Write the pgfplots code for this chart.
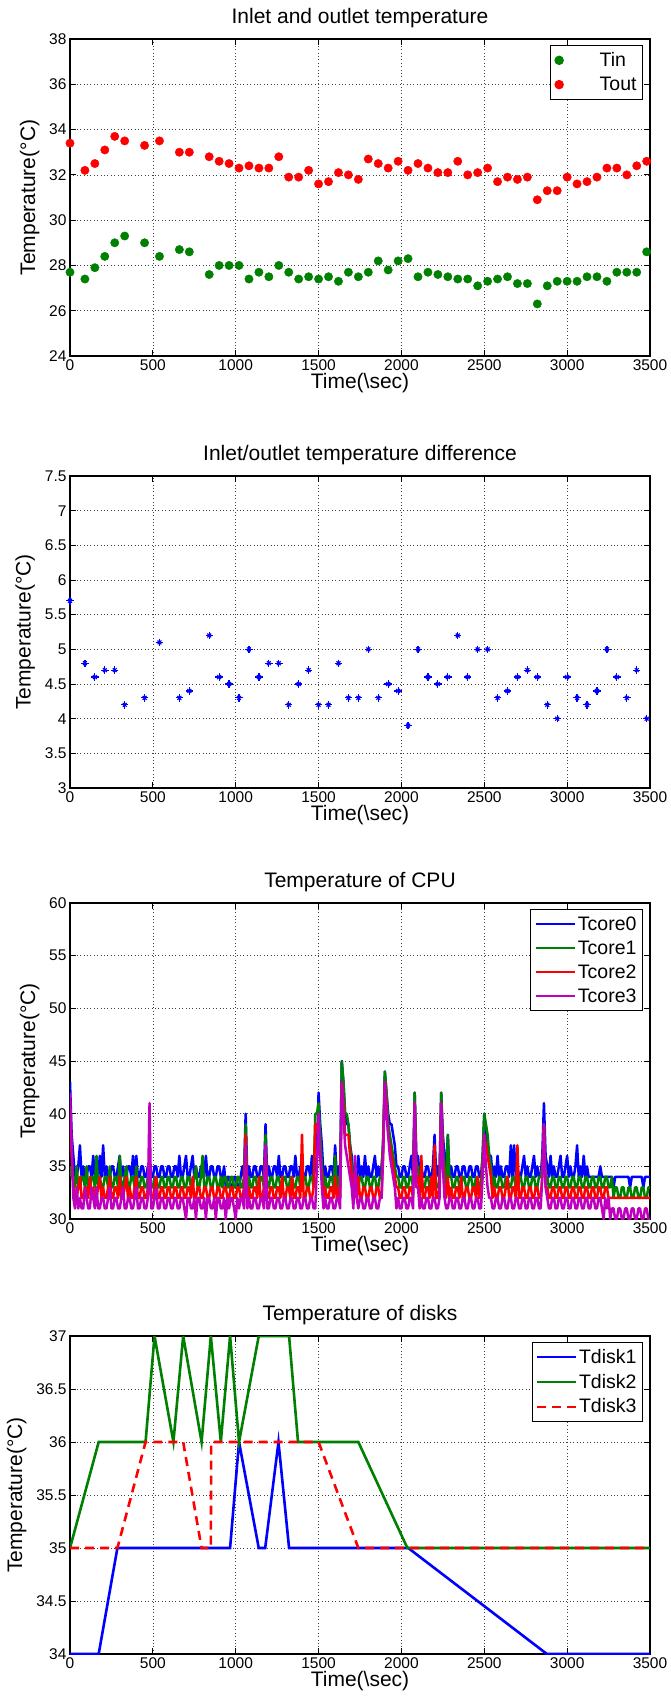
\documentclass[border=0pt]{standalone}
\usepackage{fontspec}
\setmainfont{Liberation Sans}
\usepackage{pgfplots}
\usepackage{pgfplotstable}
\pgfplotsset{compat=1.18}
\definecolor{mgreen}{rgb}{0,0.5,0}
\definecolor{mmag}{rgb}{0.75,0,0.75}

\pgfplotstableread{
t tin tout diff
0 27.7 33.4 5.7
90 27.4 32.2 4.8
150 27.9 32.5 4.6
210 28.4 33.1 4.7
270 29.0 33.7 4.7
330 29.3 33.5 4.2
450 29.0 33.3 4.3
540 28.4 33.5 5.1
660 28.7 33.0 4.3
720 28.6 33.0 4.4
840 27.6 32.8 5.2
900 28.0 32.6 4.6
960 28.0 32.5 4.5
1020 28.0 32.3 4.3
1080 27.4 32.4 5.0
1140 27.7 32.3 4.6
1200 27.5 32.3 4.8
1260 28.0 32.8 4.8
1320 27.7 31.9 4.2
1380 27.4 31.9 4.5
1440 27.5 32.2 4.7
1500 27.4 31.6 4.2
1560 27.5 31.7 4.2
1620 27.3 32.1 4.8
1680 27.7 32.0 4.3
1740 27.5 31.8 4.3
1800 27.7 32.7 5.0
1860 28.2 32.5 4.3
1920 27.8 32.3 4.5
1980 28.2 32.6 4.4
2040 28.3 32.2 3.9
2100 27.5 32.5 5.0
2160 27.7 32.3 4.6
2220 27.6 32.1 4.5
2280 27.5 32.1 4.6
2340 27.4 32.6 5.2
2400 27.4 32.0 4.6
2460 27.1 32.1 5.0
2520 27.3 32.3 5.0
2580 27.4 31.7 4.3
2640 27.5 31.9 4.4
2700 27.2 31.8 4.6
2760 27.2 31.9 4.7
2820 26.3 30.9 4.6
2880 27.1 31.3 4.2
2940 27.3 31.3 4.0
3000 27.3 31.9 4.6
3060 27.3 31.6 4.3
3120 27.5 31.7 4.2
3180 27.5 31.9 4.4
3240 27.3 32.3 5.0
3300 27.7 32.3 4.6
3360 27.7 32.0 4.3
3420 27.7 32.4 4.7
3480 28.6 32.6 4.0
}\inout

\pgfplotstableread{
t c0 c1 c2 c3
0 43 35 40 42
10 38 34 36 37
20 36 34 33 32
30 34 33 32 31
40 34 35 32 33
50 35 33 33 31
60 37 33 34 32
70 34 34 32 31
80 35 34 32 31
90 34 33 33 33
100 34 35 33 32
110 35 33 32 31
120 35 33 34 31
130 34 34 32 33
140 36 34 33 32
150 34 33 32 31
160 35 36 32 33
170 34 33 33 31
180 36 34 34 31
190 34 33 32 32
200 37 33 33 32
210 34 34 32 31
220 35 34 32 31
230 34 33 33 32
240 34 35 34 33
250 35 33 32 31
260 35 33 32 31
270 34 34 33 32
280 34 34 33 32
290 35 33 32 31
300 36 36 34 31
310 34 33 32 32
320 35 33 32 33
330 34 34 33 31
340 34 35 34 31
350 35 33 32 32
360 35 33 33 32
370 34 34 32 31
380 36 34 32 31
390 34 33 33 32
400 36 35 34 33
410 34 33 32 31
420 34 33 32 31
430 35 34 33 32
440 35 34 33 32
450 34 33 32 31
460 34 33 32 31
470 35 34 33 32
480 35 34 33 41
490 34 33 32 31
500 34 33 32 31
510 35 34 33 32
520 35 34 34 33
530 34 33 32 31
540 34 33 32 31
550 35 34 33 32
560 35 34 33 32
570 34 33 32 31
580 34 33 32 31
590 35 34 33 32
600 35 34 33 32
610 34 33 32 31
620 34 33 32 31
630 35 34 33 32
640 35 34 33 32
650 34 33 32 31
660 36 33 32 31
670 34 34 33 32
680 34 34 33 32
690 35 33 32 31
700 36 33 32 30
710 34 34 33 32
720 34 34 33 32
730 35 33 32 31
740 36 33 34 31
750 34 34 32 32
760 35 35 32 30
770 34 33 33 32
780 34 33 33 32
790 35 34 32 31
800 35 36 32 31
810 34 33 33 32
820 36 33 33 30
830 34 34 32 32
840 34 34 32 32
850 35 33 33 31
860 35 33 33 31
870 34 34 32 32
880 34 34 32 30
890 35 33 33 32
900 35 33 33 32
910 34 34 32 31
920 34 33 32 31
930 35 34 33 32
940 33 34 33 30
950 34 33 32 32
960 34 33 32 31
970 33 34 33 32
980 33 34 33 32
990 34 33 32 31
1000 34 33 32 30
1010 33 34 33 32
1020 33 34 33 31
1030 34 33 32 32
1040 35 33 32 32
1050 34 34 33 31
1060 40 39 38 37
1070 34 33 32 31
1080 35 34 33 32
1090 34 33 32 31
1100 34 33 32 31
1110 35 34 33 32
1120 35 34 33 32
1130 34 33 32 31
1140 34 33 34 31
1150 35 34 32 32
1160 35 34 32 32
1170 34 33 33 31
1180 39 38 37 37
1190 34 33 32 31
1200 35 33 32 31
1210 34 34 33 32
1220 34 34 33 32
1230 35 33 32 31
1240 35 33 32 31
1250 34 34 33 32
1260 36 34 33 32
1270 34 33 32 31
1280 34 33 34 31
1290 35 34 32 32
1300 35 34 32 32
1310 34 33 33 31
1320 34 33 33 31
1330 35 34 32 32
1340 35 34 34 32
1350 34 33 32 31
1360 36 33 32 31
1370 34 34 33 32
1380 34 34 33 32
1390 35 33 32 31
1400 35 33 38 31
1410 34 34 32 32
1420 34 34 32 32
1430 35 33 33 31
1440 35 33 33 31
1450 34 34 32 32
1460 36 34 32 32
1470 34 33 33 31
1480 35 40 39 31
1490 36 40 39 35
1500 42 41 38 40
1510 39 38 36 36
1520 37 35 34 33
1530 34 33 32 31
1540 35 34 33 32
1550 34 33 32 31
1560 34 33 32 31
1570 35 34 33 32
1580 35 34 33 32
1590 34 33 32 31
1600 37 36 34 31
1610 34 33 32 32
1620 35 34 33 32
1630 34 33 32 31
1640 45 45 43 43
1650 43 43 41 40
1660 40 40 38 37
1670 39 40 38 36
1680 39 39 38 35
1690 37 37 36 34
1700 36 35 34 33
1710 34 33 32 31
1720 35 34 33 36
1730 34 33 32 32
1740 36 33 34 31
1750 34 34 32 32
1760 35 34 32 32
1770 34 33 33 31
1780 36 33 33 31
1790 34 34 32 32
1800 35 34 32 32
1810 34 33 33 31
1820 34 33 33 31
1830 35 34 32 32
1840 36 34 32 32
1850 34 33 33 31
1860 35 33 33 31
1870 34 34 32 32
1880 35 34 32 32
1890 37 38 37 36
1900 44 44 43 43
1910 42 42 41 40
1920 40 39 38 38
1930 39 38 37 36
1940 39 37 36 35
1950 38 36 35 34
1960 37 35 34 33
1970 35 34 33 31
1980 35 34 33 32
1990 34 33 32 31
2000 34 33 32 31
2010 35 34 33 32
2020 35 34 33 32
2030 34 33 32 31
2040 34 33 32 31
2050 35 34 33 32
2060 36 34 33 32
2070 34 33 32 31
2080 42 42 41 41
2090 36 35 34 33
2100 36 35 34 33
2110 34 33 32 31
2120 35 34 36 32
2130 34 33 32 31
2140 34 33 32 31
2150 35 34 33 32
2160 35 34 33 32
2170 34 33 32 31
2180 34 33 34 31
2190 35 34 32 32
2200 38 34 37 32
2210 34 33 32 31
2220 35 33 32 31
2230 34 34 33 32
2240 42 42 41 41
2250 38 37 36 35
2260 36 34 33 32
2270 34 33 32 31
2280 38 38 34 31
2290 34 34 32 32
2300 35 34 33 32
2310 34 33 32 31
2320 34 33 32 31
2330 35 34 33 32
2340 35 34 33 32
2350 34 33 32 31
2360 34 33 34 31
2370 35 34 32 32
2380 35 34 32 32
2390 34 33 33 31
2400 34 33 33 31
2410 35 34 32 32
2420 35 34 32 32
2430 34 33 33 31
2440 34 33 33 31
2450 35 34 32 32
2460 35 34 34 32
2470 34 33 32 31
2480 34 33 32 31
2490 36 36 35 34
2500 40 40 38 38
2510 38 39 37 35
2520 37 38 36 33
2530 36 36 35 32
2540 36 35 34 32
2550 34 33 32 31
2560 35 34 33 31
2570 34 33 32 32
2580 36 33 32 32
2590 34 34 33 31
2600 35 34 33 31
2610 34 33 32 32
2620 34 33 32 32
2630 35 34 33 31
2640 35 34 34 31
2650 34 33 32 32
2660 37 33 32 32
2670 34 34 33 31
2680 37 34 33 31
2690 34 33 32 32
2700 35 33 37 32
2710 34 34 32 31
2720 34 34 32 31
2730 35 33 33 32
2740 36 33 33 32
2750 34 34 32 31
2760 35 34 32 31
2770 34 33 33 32
2780 34 33 33 32
2790 35 34 32 31
2800 36 34 32 31
2810 34 33 33 32
2820 35 33 33 32
2830 34 34 32 31
2840 34 34 32 31
2850 36 35 34 34
2860 41 39 39 39
2870 36 34 33 33
2880 35 34 33 32
2890 34 33 32 31
2900 36 33 32 31
2910 34 34 33 32
2920 35 34 33 32
2930 34 33 32 31
2940 34 33 32 31
2950 35 34 33 32
2960 36 34 33 32
2970 34 33 32 31
2980 34 33 32 31
2990 35 34 33 32
3000 36 34 33 32
3010 34 33 32 31
3020 35 33 32 31
3030 34 34 33 32
3040 34 34 33 32
3050 35 33 32 31
3060 37 33 32 31
3070 34 34 33 32
3080 35 34 33 32
3090 34 33 32 31
3100 36 33 32 31
3110 34 34 33 32
3120 35 34 33 32
3130 34 33 32 31
3140 34 33 32 31
3150 34 34 33 32
3160 34 34 33 32
3170 34 33 32 31
3180 34 33 32 31
3190 34 34 33 32
3200 35 34 33 32
3210 34 33 32 31
3220 34 33 32 30
3230 34 34 33 32
3240 34 34 33 31
3250 34 33 32 32
3260 34 33 32 30
3270 34 34 32 31
3280 33 32 32 31
3290 34 33 32 30
3300 34 33 32 30
3310 34 32 32 31
3320 34 32 32 31
3330 34 33 32 30
3340 34 33 32 30
3350 34 32 32 31
3360 34 32 32 31
3370 34 33 32 30
3380 33 33 32 30
3390 34 32 32 31
3400 34 32 32 31
3410 34 33 32 30
3420 34 33 32 30
3430 34 32 32 31
3440 34 32 32 31
3450 34 33 32 30
3460 33 33 32 30
3470 34 32 32 31
3480 34 32 32 31
3490 34 33 32 30
3500 34 33 32 30
}\cpu

\pgfplotsset{
  mstyle/.style={
    scale only axis, width=580pt,
    xmin=0, xmax=3500, xtick={0,500,...,3500},
    scaled x ticks=false, scaled y ticks=false,
    /pgf/number format/1000 sep={},
    /pgf/number format/assume math mode=true,
    tick label style={font=\fontsize{15.5}{18}\selectfont, black},
    label style={font=\fontsize{21}{24}\selectfont},
    title style={font=\fontsize{21}{24}\selectfont, yshift=2pt},
    xlabel={Time(\textbackslash sec)},
    ylabel={Temperature(°C)},
    xlabel style={yshift=4pt},
    ylabel style={yshift=3pt},
    grid=major,
    grid style={black!75, line width=0.6pt, dash pattern=on 0.8pt off 2.6pt},
    axis line style={line width=1.3pt},
    every tick/.append style={black, line width=1pt},
    major tick length=6pt,
    tick align=inside,
    legend cell align=left,
    legend style={font=\fontsize{19.5}{23}\selectfont, at={(1,1)}, anchor=north east,
      xshift=-7pt, yshift=-6pt, draw=black, line width=1pt,
      inner xsep=4pt, inner ysep=5pt, row sep=5pt,
      nodes={inner sep=2pt}},
  },
  lineleg/.style={legend image code/.code={\draw[##1, line width=2pt] (0pt,0pt) -- (39pt,0pt);}},
  markleg/.style={legend image code/.code={\node[draw=none, fill=none, inner sep=0pt, minimum width=40pt, minimum height=2pt] at (20pt,0pt) {};\draw[##1] plot coordinates {(22pt,0pt)};}},
}

\begin{document}
\begin{tikzpicture}
\useasboundingbox (0,0) rectangle (670pt,-1701pt);

% Plot 1
\begin{axis}[mstyle, at={(70pt,-356pt)}, anchor=south west, height=317pt,
  ymin=24, ymax=38, ytick={24,26,...,38},
  title={Inlet and outlet temperature}]
\addplot[only marks, mark=*, mark size=4.2pt, color=mgreen, markleg] table[x=t, y=tin] {\inout};
\addlegendentry{Tin}
\addplot[only marks, mark=*, mark size=4.2pt, color=red, markleg] table[x=t, y=tout] {\inout};
\addlegendentry{Tout}
\end{axis}

% Plot 2
\begin{axis}[mstyle, at={(70pt,-788pt)}, anchor=south west, height=312pt,
  ymin=3, ymax=7.5, ytick={3,3.5,...,7.5},
  title={Inlet/outlet temperature difference}]
\addplot[only marks, mark=+, mark size=3.7pt, color=blue, mark options={line width=1.2pt}] table[x=t, y=diff] {\inout};
\addplot[only marks, mark=x, mark size=2.7pt, color=blue, mark options={line width=1.2pt}] table[x=t, y=diff] {\inout};
\end{axis}

% Plot 3
\begin{axis}[mstyle, lineleg, at={(70pt,-1219pt)}, anchor=south west, height=316pt,
  ymin=30, ymax=60, ytick={30,35,...,60},
  title={Temperature of CPU}]
\addplot[blue, line width=2.5pt, line join=round] table[x=t, y=c0] {\cpu};
\addlegendentry{Tcore0}
\addplot[mgreen, line width=2.5pt, line join=round] table[x=t, y=c1] {\cpu};
\addlegendentry{Tcore1}
\addplot[red, line width=2.5pt, line join=round] table[x=t, y=c2] {\cpu};
\addlegendentry{Tcore2}
\addplot[mmag, line width=2.5pt, line join=round] table[x=t, y=c3] {\cpu};
\addlegendentry{Tcore3}
\end{axis}

% Plot 4
\begin{axis}[mstyle, lineleg, at={(70pt,-1654pt)}, anchor=south west, height=318pt,
  ymin=34, ymax=37, ytick={34,34.5,...,37},
  yticklabel style={/pgf/number format/fixed},
  title={Temperature of disks}]
\addplot[blue, line width=2.6pt] coordinates {
(0,34) (173,34) (286,35) (966,35) (1020,36) (1139,35) (1178,35) (1258,36) (1322,35) (2041,35) (2878,34) (3500,34)};
\addlegendentry{Tdisk1}
\addplot[mgreen, line width=2.6pt] coordinates {
(0,35) (173,36) (456,36) (510,37) (624,36) (683,37) (794,36) (850,37) (910,36) (966,37) (1020,36) (1139,37) (1322,37) (1376,36) (1740,36) (2036,35) (3500,35)};
\addlegendentry{Tdisk2}
\addplot[red, line width=2.6pt, dash pattern=on 9pt off 6pt] coordinates {
(0,35) (286,35) (456,36) (683,36) (794,35) (850,35) (852,36) (1500,36) (1740,35) (3500,35)};
\addlegendentry{Tdisk3}
\end{axis}
\end{tikzpicture}
\end{document}
